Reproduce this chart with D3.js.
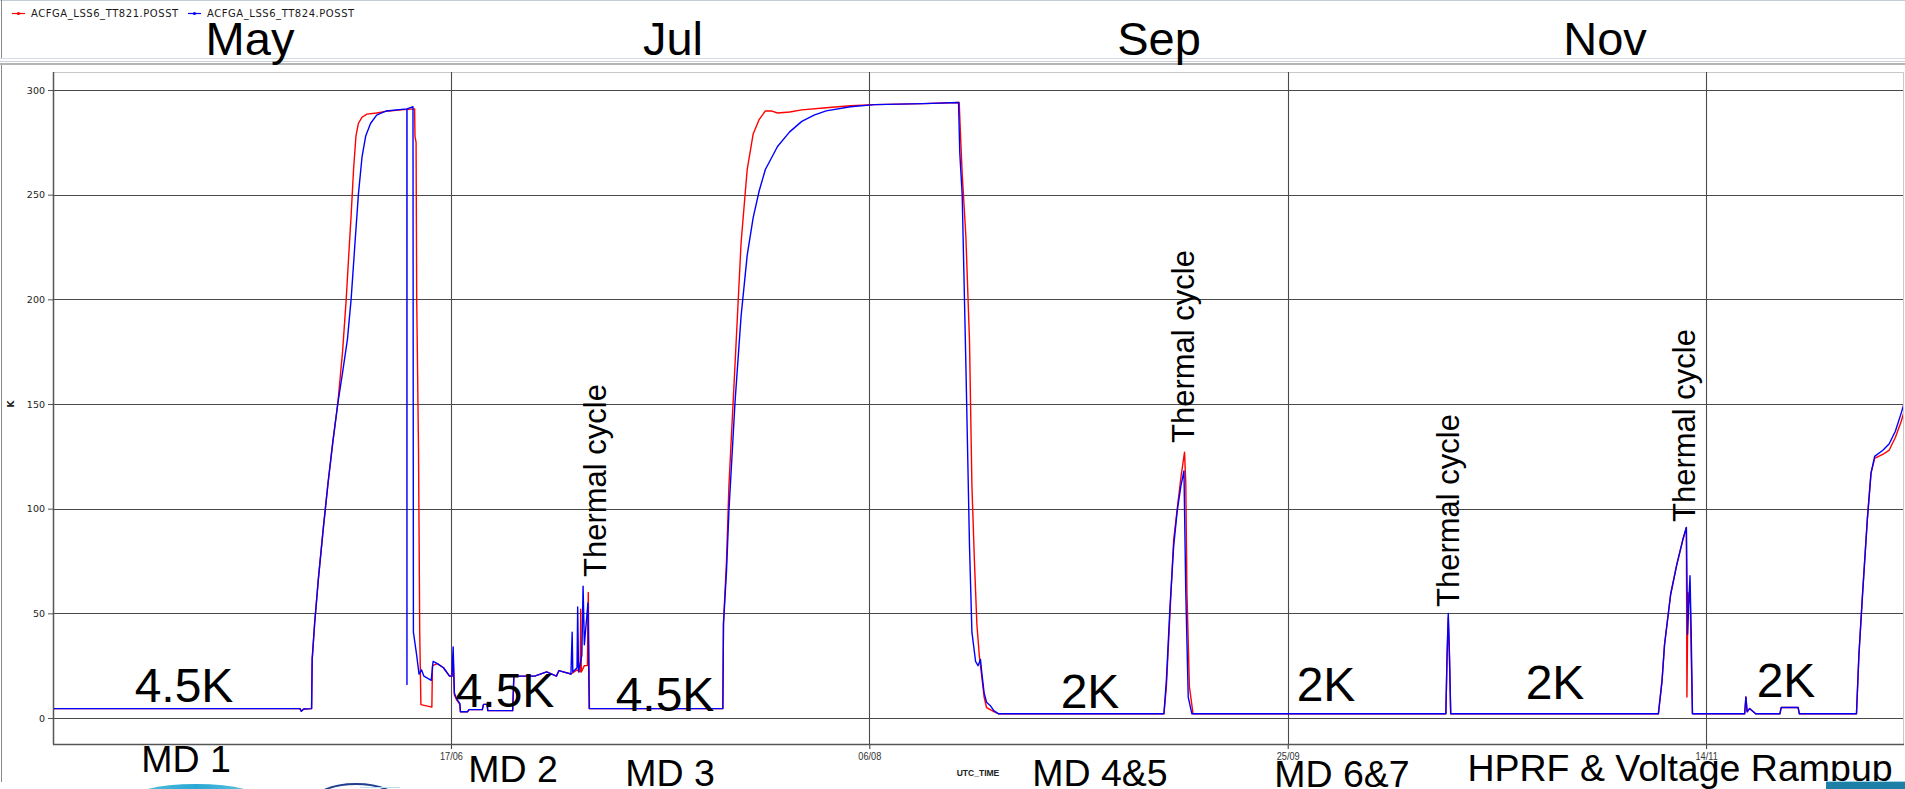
<!DOCTYPE html>
<html>
<head>
<meta charset="utf-8">
<script src="https://cdn.jsdelivr.net/npm/d3@7"></script>
<style>
  body { margin: 0; background: #fff; overflow: hidden; }
  svg { display: block; }
</style>
</head>
<body>
<svg id="chart" width="1905" height="789"></svg>
<script>
// ---- series ----
const seriesNames = ["ACFGA_LSS6_TT821.POSST", "ACFGA_LSS6_TT824.POSST"];
const seriesColors = ["#ff0000", "#0000ff"];

const tt821Times = [
  "2018-04-30 06:00","2018-05-29 23:00","2018-05-30 02:40","2018-05-30 09:40","2018-05-31 08:20",
  "2018-05-31 10:00","2018-05-31 17:00","2018-06-01 03:30","2018-06-01 17:30","2018-06-02 07:20",
  "2018-06-02 21:20","2018-06-03 11:20","2018-06-04 01:10","2018-06-04 11:35","2018-06-04 18:30",
  "2018-06-05 01:40","2018-06-05 08:40","2018-06-05 15:35","2018-06-05 22:30","2018-06-06 09:00",
  "2018-06-06 22:50","2018-06-08 02:50","2018-06-09 13:40","2018-06-11 00:30","2018-06-12 15:50",
  "2018-06-12 16:50","2018-06-12 20:00","2018-06-12 21:50","2018-06-13 03:00","2018-06-13 06:30",
  "2018-06-13 09:50","2018-06-14 17:15","2018-06-14 19:00","2018-06-15 09:00","2018-06-16 02:30",
  "2018-06-16 20:00","2018-06-17 03:00","2018-06-17 06:20","2018-06-17 09:50","2018-06-17 16:50",
  "2018-06-18 01:30","2018-06-18 03:10","2018-06-19 00:00","2018-06-19 03:30","2018-06-20 18:00",
  "2018-06-20 21:30","2018-06-21 07:50","2018-06-21 09:40","2018-06-24 09:00","2018-06-24 12:30",
  "2018-06-27 00:00","2018-06-28 10:30","2018-06-29 14:30","2018-06-29 21:30","2018-07-01 08:10",
  "2018-07-02 01:40","2018-07-02 10:30","2018-07-02 12:15","2018-07-02 14:00","2018-07-02 22:40",
  "2018-07-03 07:25","2018-07-03 09:50","2018-07-03 13:15","2018-07-19 11:50","2018-07-19 13:40",
  "2018-07-19 22:20","2018-07-20 05:20","2018-07-20 22:50","2018-07-21 16:10","2018-07-22 09:40",
  "2018-07-23 02:50","2018-07-23 20:20","2018-07-24 13:50","2018-07-25 07:10","2018-07-26 00:40",
  "2018-07-27 11:30","2018-07-28 22:20","2018-07-31 20:10","2018-08-03 17:45","2018-08-06 15:25",
  "2018-08-12 10:50","2018-08-16 17:45","2018-08-16 21:10","2018-08-17 02:20","2018-08-17 12:55",
  "2018-08-17 23:20","2018-08-18 06:15","2018-08-18 13:25","2018-08-18 20:25","2018-08-19 03:20",
  "2018-08-19 10:20","2018-08-19 17:15","2018-08-20 00:15","2018-08-20 10:35","2018-08-20 21:00",
  "2018-08-21 11:00","2018-09-10 05:00","2018-09-10 12:00","2018-09-10 22:20","2018-09-11 08:50",
  "2018-09-11 19:10","2018-09-12 05:45","2018-09-12 16:05","2018-09-12 19:40","2018-09-12 23:00",
  "2018-09-13 06:00","2018-09-13 16:30","2018-10-13 21:35","2018-10-14 01:00","2018-10-14 04:30",
  "2018-10-14 08:00","2018-10-14 11:30","2018-11-08 07:10","2018-11-08 17:45","2018-11-09 00:45",
  "2018-11-09 18:15","2018-11-10 11:35","2018-11-11 05:00","2018-11-11 15:25","2018-11-11 17:00",
  "2018-11-11 19:55","2018-11-11 22:20","2018-11-12 01:50","2018-11-12 05:20","2018-11-12 08:50",
  "2018-11-18 14:40","2018-11-18 18:10","2018-11-18 21:40","2018-11-19 04:40","2018-11-19 22:10",
  "2018-11-22 19:40","2018-11-22 23:20","2018-11-25 00:00","2018-11-25 03:30","2018-12-01 23:20",
  "2018-12-02 06:15","2018-12-02 16:40","2018-12-03 06:30","2018-12-03 17:00","2018-12-04 03:30",
  "2018-12-05 03:50","2018-12-05 21:20","2018-12-06 14:50","2018-12-07 08:15","2018-12-08 01:40"
];
const tt821Values = [
  4.5, 4.5, 3.2, 4.3, 4.5,
  28, 45, 66, 90, 112,
  132, 150, 175, 200, 220,
  240, 262, 278, 284, 287,
  288.5, 289, 290, 290.5, 291,
  278, 275, 200, 128, 40,
  6.4, 5.2, 25, 26, 24,
  20, 20, 30, 11, 8.5,
  6.5, 3, 3, 4, 4,
  6.5, 6.5, 3.5, 3.5, 20,
  20, 22, 20, 22.6, 21,
  23, 22, 52, 22, 25,
  25, 60, 4.5, 4.5, 45,
  75, 111, 169, 227, 262,
  279, 286, 290, 290, 289,
  289.5, 290.5, 291.5, 292.5, 293,
  293.5, 294, 280, 260, 230,
  180, 111, 75, 45, 30,
  20, 10, 5, 4, 3,
  2, 2, 15, 50, 85,
  100, 115, 127, 112, 60,
  15, 2, 2, 28, 48,
  28, 2, 2, 18, 35,
  59, 73, 85, 91, 10,
  60, 55, 62, 30, 2,
  2, 10, 3, 4.5, 2,
  2, 5, 5, 2, 2,
  30, 59, 95, 117, 124,
  126, 128, 134, 142, 152
];

const tt824Times = [
  "2018-04-30 06:00","2018-05-29 23:00","2018-05-30 02:40","2018-05-30 09:40","2018-05-31 08:20",
  "2018-05-31 10:00","2018-05-31 17:00","2018-06-01 03:30","2018-06-01 17:30","2018-06-02 07:20",
  "2018-06-02 21:20","2018-06-03 11:20","2018-06-04 01:10","2018-06-04 15:10","2018-06-05 01:40",
  "2018-06-05 12:00","2018-06-05 22:30","2018-06-06 09:00","2018-06-06 19:30","2018-06-07 09:20",
  "2018-06-08 02:50","2018-06-09 06:40","2018-06-11 17:40","2018-06-11 17:50","2018-06-11 18:00",
  "2018-06-12 11:10","2018-06-12 12:20","2018-06-12 21:40","2018-06-13 04:30","2018-06-13 11:30",
  "2018-06-13 18:30","2018-06-14 15:30","2018-06-14 20:45","2018-06-15 09:00","2018-06-16 02:30",
  "2018-06-16 20:00","2018-06-17 03:00","2018-06-17 06:20","2018-06-17 09:50","2018-06-17 16:50",
  "2018-06-18 01:30","2018-06-18 03:10","2018-06-19 00:00","2018-06-19 03:30","2018-06-20 18:00",
  "2018-06-20 21:30","2018-06-21 07:50","2018-06-21 09:40","2018-06-24 09:00","2018-06-24 12:30",
  "2018-06-27 00:00","2018-06-28 10:30","2018-06-29 14:30","2018-06-29 21:30","2018-07-01 08:10",
  "2018-07-01 11:40","2018-07-01 13:30","2018-07-02 01:40","2018-07-02 03:30","2018-07-02 06:00",
  "2018-07-02 15:30","2018-07-02 19:00","2018-07-02 22:40","2018-07-03 09:00","2018-07-03 12:30",
  "2018-07-19 11:50","2018-07-19 13:40","2018-07-19 22:20","2018-07-20 05:20","2018-07-20 22:50",
  "2018-07-21 16:10","2018-07-22 09:40","2018-07-23 02:50","2018-07-23 20:20","2018-07-24 13:50",
  "2018-07-26 00:40","2018-07-27 11:30","2018-07-28 22:20","2018-07-30 09:20","2018-07-31 20:10",
  "2018-08-03 17:45","2018-08-06 15:25","2018-08-12 10:50","2018-08-16 15:50","2018-08-16 19:25",
  "2018-08-17 02:20","2018-08-17 12:55","2018-08-17 23:20","2018-08-18 06:15","2018-08-18 16:50",
  "2018-08-18 23:45","2018-08-19 06:45","2018-08-19 10:20","2018-08-19 17:15","2018-08-20 00:15",
  "2018-08-20 10:35","2018-08-20 21:00","2018-08-21 11:00","2018-09-10 05:00","2018-09-10 12:00",
  "2018-09-10 22:20","2018-09-11 08:50","2018-09-11 19:10","2018-09-12 05:45","2018-09-12 14:25",
  "2018-09-12 19:40","2018-09-13 02:40","2018-09-13 13:10","2018-10-13 21:35","2018-10-14 01:00",
  "2018-10-14 04:30","2018-10-14 08:00","2018-10-14 11:30","2018-11-08 07:10","2018-11-08 17:45",
  "2018-11-09 00:45","2018-11-09 18:15","2018-11-10 11:35","2018-11-11 05:00","2018-11-11 15:25",
  "2018-11-11 18:55","2018-11-11 22:20","2018-11-12 01:50","2018-11-12 05:20","2018-11-12 08:50",
  "2018-11-18 14:40","2018-11-18 18:10","2018-11-18 21:40","2018-11-19 04:40","2018-11-19 22:10",
  "2018-11-22 19:40","2018-11-22 23:20","2018-11-25 00:00","2018-11-25 03:30","2018-12-01 23:20",
  "2018-12-02 06:15","2018-12-02 16:40","2018-12-03 06:30","2018-12-03 17:00","2018-12-04 03:30",
  "2018-12-05 03:50","2018-12-05 21:20","2018-12-06 14:50","2018-12-07 08:15","2018-12-08 01:40"
];
const tt824Values = [
  4.5, 4.5, 3.2, 4.3, 4.5,
  28, 45, 66, 90, 112,
  132, 150, 165, 181, 200,
  225, 250, 268, 278, 284,
  288, 290, 291, 16, 291,
  292, 41, 30, 21, 23,
  20, 18, 27, 26, 24,
  20, 20, 34, 12, 9,
  7, 3, 3, 4, 4,
  6.5, 6.5, 3.5, 3.5, 20,
  20, 22, 20, 22.6, 21,
  41, 22, 24, 53, 22,
  30, 63, 35, 55, 4.5,
  4.5, 45, 70, 99, 151,
  192, 221, 239, 252, 262,
  273, 280, 285, 288, 290,
  292, 293, 293.5, 294, 270,
  250, 169, 82, 41, 27,
  25, 28, 22, 12, 7.5,
  6, 3.5, 2, 2, 18,
  53, 82, 99, 111, 118,
  60, 10, 2, 2, 30,
  50, 30, 2, 2, 18,
  35, 59, 73, 85, 91,
  40, 55, 68, 40, 2,
  2, 10, 3, 4.5, 2,
  2, 5, 5, 2, 2,
  30, 59, 95, 117, 125,
  128, 131, 137, 146, 156
];

// ---- axes ----
const timeDomain = ["2018-04-30 13:30", "2018-12-07 12:45"];
const yTicks = [0, 50, 100, 150, 200, 250, 300];
const xTickDates = ["2018-06-17 00:00", "2018-08-06 00:00", "2018-09-25 00:00", "2018-11-14 00:00"];
const xTickLabels = ["17/06", "06/08", "25/09", "14/11"];
const yAxisTitle = "K";
const xAxisTitle = "UTC_TIME";

// ---- slide annotations ----
const monthLabels = ["May", "Jul", "Sep", "Nov"];
const levelLabels = ["4.5K", "4.5K", "4.5K", "2K", "2K", "2K", "2K"];
const cycleLabels = ["Thermal cycle", "Thermal cycle", "Thermal cycle", "Thermal cycle"];
const periodLabels = ["MD 1", "MD 2", "MD 3", "MD 4&5", "MD 6&7", "HPRF & Voltage Rampup"];

// layout (pixels)
const monthPos = [[250, 55], [673, 55], [1159, 55], [1605, 55]];
const levelPos = [[184, 702], [505, 707], [665, 711], [1090, 708], [1326, 701], [1555, 699], [1786, 697]];
const cyclePos = [[606, 577], [1194, 443], [1459, 607], [1695, 522]];
const periodPos = [[186, 772], [513, 782], [670, 786], [1100, 786], [1342, 787], [1680, 781]];

const plot = { left: 54, right: 1903, top: 72, bottom: 744 };

const parse = d3.utcParse("%Y-%m-%d %H:%M");
const svg = d3.select("#chart");
const BIG = "'Liberation Sans', Arial, Helvetica, sans-serif";
const SMALL = "'DejaVu Sans', Verdana, sans-serif";

svg.append("rect").attr("width", 1905).attr("height", 789).attr("fill", "#fff");

// header panel frame
svg.append("line").attr("x1", 0).attr("x2", 1905).attr("y1", 0.5).attr("y2", 0.5).attr("stroke", "#c4ccd8");
svg.append("line").attr("x1", 1.5).attr("x2", 1.5).attr("y1", 0).attr("y2", 58).attr("stroke", "#8a8a8a");
svg.append("line").attr("x1", 0).attr("x2", 1905).attr("y1", 58.5).attr("y2", 58.5).attr("stroke", "#d2dae4");
svg.append("line").attr("x1", 0).attr("x2", 1905).attr("y1", 61.5).attr("y2", 61.5).attr("stroke", "#c8d0da");
svg.append("line").attr("x1", 0).attr("x2", 1905).attr("y1", 64).attr("y2", 64).attr("stroke", "#b4b4b4").attr("stroke-width", 2);
svg.append("line").attr("x1", 1.5).attr("x2", 1.5).attr("y1", 65).attr("y2", 782).attr("stroke", "#8a8a8a");

// legend
const legend = svg.append("g");
const legendX = [12, 188];
seriesNames.forEach((name, i) => {
  const g = legend.append("g").attr("transform", `translate(${legendX[i]},0)`);
  g.append("line").attr("x1", 0).attr("x2", 13).attr("y1", 13.5).attr("y2", 13.5)
    .attr("stroke", seriesColors[i]).attr("stroke-width", 1.2);
  g.append("circle").attr("cx", 6.5).attr("cy", 13.5).attr("r", 1.6).attr("fill", seriesColors[i]);
  g.append("text").attr("x", 19).attr("y", 17.3).text(name)
    .attr("font-family", SMALL).attr("font-size", 10).attr("letter-spacing", 0.55).attr("fill", "#1a1a1a");
});

// scales
const x = d3.scaleUtc().domain(timeDomain.map(parse)).range([plot.left, plot.right]);
const y = d3.scaleLinear().domain([0, 300]).range([718, 90]);

// plot frame
svg.append("line").attr("x1", plot.left).attr("x2", plot.right).attr("y1", plot.top + 0.5).attr("y2", plot.top + 0.5).attr("stroke", "#c8c8c8");
svg.append("line").attr("x1", plot.right + 0.5).attr("x2", plot.right + 0.5).attr("y1", plot.top).attr("y2", plot.bottom).attr("stroke", "#c8c8c8");

// horizontal grid + y axis ticks
const yAxis = d3.axisLeft(y).tickValues(yTicks).tickSize(6).tickPadding(3);
const yg = svg.append("g").attr("transform", `translate(${plot.left},0)`).call(yAxis);
yg.select(".domain").remove();
yg.selectAll(".tick line").attr("stroke", "#555");
yg.selectAll(".tick text").attr("font-family", SMALL).attr("font-size", 9.5).attr("fill", "#222");
svg.append("g").selectAll("line").data(yTicks).join("line")
  .attr("x1", plot.left).attr("x2", plot.right)
  .attr("y1", d => Math.round(y(d)) + 0.5).attr("y2", d => Math.round(y(d)) + 0.5)
  .attr("stroke", "#4a4a4a").attr("stroke-width", 1.1);

// vertical grid + x axis ticks
const xDates = xTickDates.map(parse);
const xAxis = d3.axisBottom(x).tickValues(xDates).tickSize(5).tickPadding(4)
  .tickFormat((d, i) => xTickLabels[i]);
const xg = svg.append("g").attr("transform", `translate(0,${plot.bottom})`).call(xAxis);
xg.select(".domain").remove();
xg.selectAll(".tick line").attr("stroke", "#333");
xg.selectAll(".tick text").attr("font-family", BIG).attr("font-size", 10).attr("fill", "#333")
  .attr("transform", "scale(0.92,1)");
svg.append("g").selectAll("line").data(xDates).join("line")
  .attr("x1", d => Math.round(x(d)) + 0.5).attr("x2", d => Math.round(x(d)) + 0.5)
  .attr("y1", plot.top).attr("y2", plot.bottom)
  .attr("stroke", "#4a4a4a").attr("stroke-width", 1.1);

// left and bottom axis lines
svg.append("line").attr("x1", plot.left - 0.5).attr("x2", plot.left - 0.5).attr("y1", plot.top).attr("y2", plot.bottom + 0.5)
  .attr("stroke", "#555").attr("stroke-width", 1.5);
svg.append("line").attr("x1", plot.left - 1).attr("x2", plot.right + 1).attr("y1", plot.bottom + 0.5).attr("y2", plot.bottom + 0.5)
  .attr("stroke", "#555").attr("stroke-width", 1.5);

// axis titles
svg.append("text").attr("transform", `translate(14,${y(150)}) rotate(-90)`).attr("text-anchor", "middle")
  .attr("font-family", SMALL).attr("font-weight", "bold").attr("font-size", 9).attr("fill", "#222").text(yAxisTitle);
svg.append("text").attr("x", 978).attr("y", 776).attr("text-anchor", "middle")
  .attr("font-family", BIG).attr("font-weight", "bold").attr("font-size", 9.5).attr("fill", "#222")
  .attr("transform", "translate(978,0) scale(0.9,1) translate(-978,0)").text(xAxisTitle);

// data lines
svg.append("defs").append("clipPath").attr("id", "plotClip").append("rect")
  .attr("x", plot.left).attr("y", plot.top).attr("width", plot.right - plot.left).attr("height", plot.bottom - plot.top);
const line = d3.line().x(d => x(d[0])).y(d => y(d[1]));
const series = [
  tt821Times.map((t, i) => [parse(t), tt821Values[i]]),
  tt824Times.map((t, i) => [parse(t), tt824Values[i]])
];
const lines = svg.append("g").attr("clip-path", "url(#plotClip)");
series.forEach((pts, i) => {
  lines.append("path").datum(pts).attr("d", line).attr("fill", "none")
    .attr("stroke", seriesColors[i]).attr("stroke-width", 1.4).attr("stroke-linejoin", "round");
});

// annotations
const ann = svg.append("g").attr("font-family", BIG).attr("fill", "#000");
ann.selectAll("text.month").data(monthLabels).join("text").attr("class", "month")
  .attr("x", (d, i) => monthPos[i][0]).attr("y", (d, i) => monthPos[i][1])
  .attr("text-anchor", "middle").attr("font-size", 47).text(d => d);
ann.selectAll("text.level").data(levelLabels).join("text").attr("class", "level")
  .attr("x", (d, i) => levelPos[i][0]).attr("y", (d, i) => levelPos[i][1])
  .attr("text-anchor", "middle").attr("font-size", 48).text(d => d);
ann.selectAll("text.cycle").data(cycleLabels).join("text").attr("class", "cycle")
  .attr("transform", (d, i) => `translate(${cyclePos[i][0]},${cyclePos[i][1]}) rotate(-90)`)
  .attr("font-size", 31).text(d => d);
ann.selectAll("text.period").data(periodLabels).join("text").attr("class", "period")
  .attr("x", (d, i) => periodPos[i][0]).attr("y", (d, i) => periodPos[i][1])
  .attr("text-anchor", "middle").attr("font-size", 37.5).text(d => d);

// footer decorations
const foot = svg.append("g");
const grad = svg.select("defs").append("linearGradient").attr("id", "cyanGrad").attr("x1", 0).attr("x2", 1);
grad.append("stop").attr("offset", "0%").attr("stop-color", "#5cc4e0");
grad.append("stop").attr("offset", "50%").attr("stop-color", "#2aa8d4");
grad.append("stop").attr("offset", "100%").attr("stop-color", "#6ccae4");
foot.append("ellipse").attr("cx", 196).attr("cy", 802).attr("rx", 70).attr("ry", 18).attr("fill", "url(#cyanGrad)");
foot.append("ellipse").attr("cx", 356).attr("cy", 803).attr("rx", 44).attr("ry", 19).attr("fill", "none")
  .attr("stroke", "#1f3f8f").attr("stroke-width", 2);
foot.append("line").attr("x1", 360).attr("x2", 400).attr("y1", 787.5).attr("y2", 787.5).attr("stroke", "#b8e0f0");
foot.append("rect").attr("x", 1826).attr("y", 782).attr("width", 80).attr("height", 8).attr("fill", "#1e7fa6");
foot.append("line").attr("x1", 1826).attr("x2", 1905).attr("y1", 781.5).attr("y2", 781.5).attr("stroke", "#9fd4ea");
</script>
</body>
</html>
